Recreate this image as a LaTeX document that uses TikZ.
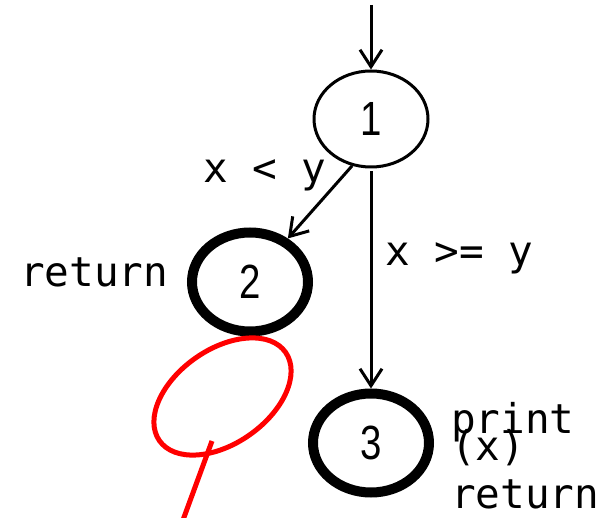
\documentclass[tikz,border=0pt]{standalone}
\usepackage{fontspec}
\setmainfont{Liberation Sans}
\newfontfamily\codefont{DejaVu Sans Mono}
\usetikzlibrary{arrows.meta,shapes.geometric}
\newcommand{\dig}[1]{\scalebox{0.8}[1]{#1}}
\begin{document}
\begin{tikzpicture}[x=1pt,y=-1pt,
  state/.style={ellipse, draw, inner sep=0pt, font=\fontsize{48}{48}\selectfont},
  plain/.style={state, line width=3pt, minimum width=114pt, minimum height=96pt},
  final/.style={state, line width=10pt, minimum width=116pt, minimum height=99pt},
  arr/.style={line width=3pt, -{Straight Barb[length=17pt,width=22pt]}},
  lbl/.style={font=\codefont\fontsize{41}{41}\selectfont, inner sep=0pt, anchor=base west},
  redmark/.style={red, line width=5pt}]
\useasboundingbox (0,0) rectangle (613,518);
\node[plain] (n1) at (371,119) {\dig{1}};
\node[final] (n2) at (250,282) {\dig{2}};
\node[final] (n3) at (371,443) {\dig{3}};
\coordinate (in) at (371,5);
\draw[arr] (in) -- (n1);
\draw[arr] (n1.248) -- (n2.49);
\draw[arr, shorten <=3pt] (n1.south) -- (n3);
\node[lbl] (lt) at (203,183) {x < y};
\node[lbl] (ge) at (385,266) {x >= y};
\node[lbl] (r2) at (20,287) {return};
\node[lbl] (p3) at (451,433) {print};
\node[lbl] (x3) at (451,460) {(x)};
\node[lbl] (r3) at (451,508) {return};
\draw[redmark, rotate around={35:(222.5,396.5)}] (222.5,396.5) ellipse [x radius=77, y radius=47];
\coordinate (m1) at (212,441);
\coordinate (m2) at (183,520);
\draw[redmark] (m1) -- (m2);
\end{tikzpicture}
\end{document}
